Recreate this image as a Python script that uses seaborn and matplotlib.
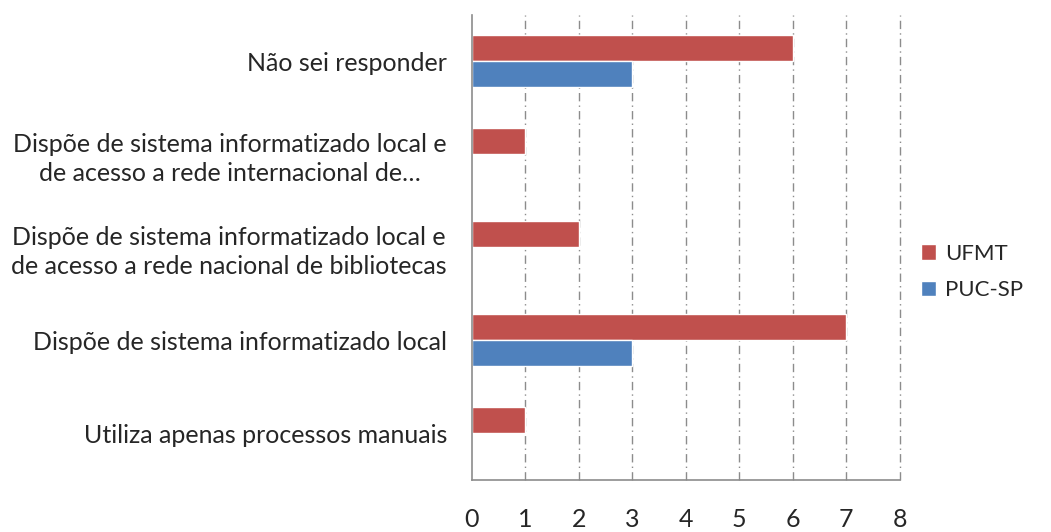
import numpy as np
import pandas as pd
import matplotlib
matplotlib.use("Agg")
import matplotlib.pyplot as plt
import seaborn as sns
from matplotlib.patches import Patch

categories = [
    "Não sei responder",
    "Dispõe de sistema informatizado local e\nde acesso a rede internacional de…",
    "Dispõe de sistema informatizado local e\nde acesso a rede nacional de bibliotecas",
    "Dispõe de sistema informatizado local",
    "Utiliza apenas processos manuais",
]
series = ["UFMT", "PUC-SP"]
ufmt = [6, 1, 2, 7, 1]
puc_sp = [3, 0, 0, 3, 0]
colors = {"UFMT": "#C0504D", "PUC-SP": "#4F81BD"}

df = pd.DataFrame({
    "categoria": categories * 2,
    "serie": ["UFMT"] * len(categories) + ["PUC-SP"] * len(categories),
    "valor": ufmt + puc_sp,
})

sns.set_style("white")
plt.rcParams["font.family"] = ["Lato", "DejaVu Sans"]

fig = plt.figure(figsize=(10.51, 5.32), dpi=100)
ax = fig.add_axes([0.449, 0.098, 0.407, 0.874])

sns.barplot(data=df, y="categoria", x="valor", hue="serie", hue_order=series,
            order=categories, palette=colors, orient="h", width=0.56, gap=0,
            saturation=1, ax=ax, legend=False)

ax.set_xlim(0, 8)
ax.set_ylim(len(categories) - 0.5, -0.5)
ax.set_xticks(range(0, 9))
ax.set_xlabel("")
ax.set_ylabel("")

# vertical dash-dot gridlines
for x in range(1, 9):
    ax.axvline(x, color="#8c8c8c", lw=1, ls=(0, (6, 3, 1, 3)), zorder=0, clip_on=False)

for s in ["top", "right"]:
    ax.spines[s].set_visible(False)
for s in ["left", "bottom"]:
    ax.spines[s].set_color("#8c8c8c")
    ax.spines[s].set_linewidth(1.2)

ax.tick_params(axis="x", length=8, width=1, color="#8c8c8c", direction="inout",
               pad=16, labelsize=18)
ax.set_yticks(np.arange(len(categories)))
ax.set_yticklabels(categories, fontsize=18, ha="right")
ax.tick_params(axis="y", length=0, pad=18)
ax.set_yticks(np.arange(-0.5, len(categories)), minor=True)
ax.tick_params(axis="y", which="minor", length=6, width=1, color="#8c8c8c", direction="out")
for lab in ax.get_yticklabels():
    lab.set_multialignment("center")
    lab.set_linespacing(1.3)

handles = [Patch(facecolor=colors[s], label=s) for s in series]
fig.legend(handles=handles, loc="center left", bbox_to_anchor=(0.876, 0.489),
           frameon=False, fontsize=16, handlelength=0.7, handleheight=0.7,
           handletextpad=0.4, labelspacing=0.75, borderaxespad=0, borderpad=0)

fig.savefig("out.png", dpi=100)
